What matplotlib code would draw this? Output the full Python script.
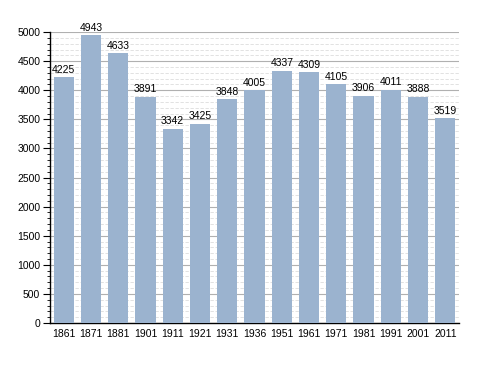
import matplotlib
matplotlib.use("Agg")
import matplotlib.pyplot as plt
from matplotlib.ticker import MultipleLocator

years = ["1861", "1871", "1881", "1901", "1911", "1921", "1931", "1936",
         "1951", "1961", "1971", "1981", "1991", "2001", "2011"]
population = [4225, 4943, 4633, 3891, 3342, 3425, 3848, 4005,
              4337, 4309, 4105, 3906, 4011, 3888, 3519]

plt.rcParams['font.family'] = ['Liberation Sans', 'DejaVu Sans']

fig = plt.figure(figsize=(4.88, 3.73), dpi=100)
ax = fig.add_axes([0.1025, 0.134, 0.838, 0.78])

x = range(len(years))
ax.bar(x, population, width=0.74, color="#9bb3cf", zorder=3)
for i, v in enumerate(population):
    ax.text(i, v + 40, str(v), ha="center", va="bottom", fontsize=7.5, zorder=4)

ax.set_xlim(-0.5, len(years) - 0.5)
ax.set_ylim(0, 5000)
ax.set_xticks(list(x))
ax.set_xticklabels(years)
ax.yaxis.set_major_locator(MultipleLocator(500))
ax.yaxis.set_minor_locator(MultipleLocator(100))
ax.grid(axis="y", which="major", color="#b0b0b0", linewidth=0.8, zorder=0)
ax.grid(axis="y", which="minor", color="#dddddd", linewidth=0.6, linestyle=(0, (4, 2)), zorder=0)

for s in ["top", "right"]:
    ax.spines[s].set_visible(False)
ax.spines["left"].set_linewidth(1.0)
ax.spines["bottom"].set_linewidth(1.0)
ax.tick_params(axis="y", which="major", length=5, labelsize=7.5, pad=2)
ax.tick_params(axis="y", which="minor", length=2.5)
ax.tick_params(axis="x", length=0, labelsize=7.5, pad=4)

fig.savefig("out.png", dpi=100)
